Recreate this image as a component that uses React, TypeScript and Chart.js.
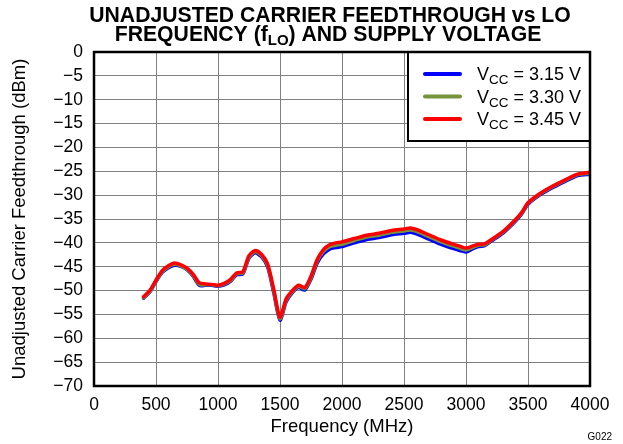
import React, { useEffect, useRef } from 'react';
import { Chart, registerables } from 'chart.js';
Chart.register(...registerables);

const FREQ = [400, 450, 500, 550, 600, 650, 700, 750, 800, 850, 900, 950, 1000, 1050, 1100, 1150, 1200, 1250, 1300, 1350, 1400, 1450, 1500, 1550, 1600, 1650, 1700, 1750, 1800, 1850, 1900, 1950, 2000, 2100, 2200, 2300, 2400, 2500, 2550, 2600, 2700, 2800, 2900, 2950, 3000, 3050, 3100, 3150, 3200, 3300, 3400, 3450, 3500, 3600, 3700, 3800, 3900, 4000];

const VCC_315 = [-51.6, -50.3, -48.1, -46.2, -45.2, -44.7, -44.9, -45.6, -47.0, -48.9, -48.9, -48.9, -49.1, -48.8, -48.1, -46.7, -46.5, -43.2, -42.1, -42.9, -45.0, -50.5, -56.2, -52.3, -50.4, -49.3, -49.9, -47.6, -44.2, -42.3, -41.3, -41.0, -40.8, -40.0, -39.3, -38.9, -38.3, -38.0, -37.8, -38.1, -39.2, -40.3, -41.2, -41.6, -41.9, -41.3, -40.8, -40.6, -39.7, -37.9, -35.4, -33.9, -31.9, -29.9, -28.4, -27.1, -25.9, -25.6];

const VCC_330 = [-51.5, -50.2, -48.0, -46.0, -45.0, -44.5, -44.8, -45.5, -46.8, -48.7, -48.8, -48.8, -49.0, -48.6, -47.9, -46.5, -46.3, -43.0, -41.8, -42.6, -44.7, -50.1, -55.9, -52.0, -50.2, -49.1, -49.6, -47.3, -43.8, -41.8, -40.8, -40.5, -40.3, -39.5, -38.8, -38.4, -37.8, -37.5, -37.3, -37.6, -38.7, -39.8, -40.7, -41.1, -41.5, -41.0, -40.5, -40.4, -39.5, -37.7, -35.2, -33.7, -31.7, -29.7, -28.2, -26.9, -25.7, -25.4];

const VCC_345 = [-51.3, -50.0, -47.8, -45.8, -44.8, -44.2, -44.6, -45.3, -46.6, -48.4, -48.6, -48.7, -48.9, -48.5, -47.7, -46.3, -46.1, -42.7, -41.6, -42.4, -44.4, -49.8, -55.6, -51.7, -50.0, -48.9, -49.4, -47.0, -43.5, -41.4, -40.4, -40.0, -39.8, -39.1, -38.4, -38.0, -37.4, -37.1, -36.9, -37.2, -38.3, -39.4, -40.3, -40.7, -41.1, -40.7, -40.3, -40.2, -39.4, -37.6, -35.1, -33.6, -31.6, -29.6, -28.1, -26.8, -25.6, -25.2];

const X_TICKS = [0, 500, 1000, 1500, 2000, 2500, 3000, 3500, 4000];
const Y_TICKS = [0, -5, -10, -15, -20, -25, -30, -35, -40, -45, -50, -55, -60, -65, -70];
const SERIES_VALUES = ['3.15 V', '3.30 V', '3.45 V'];
const SERIES_COLORS = ['#0000FF', '#77933C', '#FF0000'];

const FONT = '"Liberation Sans", Arial, sans-serif';

function drawSubText(
  ctx: CanvasRenderingContext2D,
  parts: { t: string; sub?: boolean }[],
  cx: number,
  baseline: number,
  size: number,
  subSize: number,
  weight: string,
  align: 'center' | 'left',
  subDrop: number
) {
  const widths = parts.map((p) => {
    ctx.font = `${weight} ${p.sub ? subSize : size}px ${FONT}`;
    return ctx.measureText(p.t).width;
  });
  const total = widths.reduce((a, b) => a + b, 0);
  let x = align === 'center' ? cx - total / 2 : cx;
  ctx.textAlign = 'left';
  ctx.textBaseline = 'alphabetic';
  parts.forEach((p, i) => {
    ctx.font = `${weight} ${p.sub ? subSize : size}px ${FONT}`;
    ctx.fillText(p.t, x, p.sub ? baseline + subDrop : baseline);
    x += widths[i];
  });
}

const overlay = {
  id: 'overlay',
  afterDraw(chart: any) {
    const ctx: CanvasRenderingContext2D = chart.ctx;
    const a = chart.chartArea;
    ctx.save();

    // legend
    const lx = 408, ly = a.top, lw = a.right - 408, lh = 89;
    ctx.fillStyle = '#fff';
    ctx.fillRect(lx, ly, lw, lh);
    ctx.strokeStyle = '#000';
    ctx.lineWidth = 2;
    ctx.strokeRect(lx, ly, lw, lh);
    // plot frame
    ctx.lineWidth = 2.5;
    ctx.strokeRect(a.left, a.top, a.right - a.left, a.bottom - a.top);
    const rows = [74, 96.5, 119];
    SERIES_VALUES.forEach((v, i) => {
      ctx.strokeStyle = SERIES_COLORS[i];
      ctx.lineWidth = 4;
      ctx.lineCap = 'round';
      ctx.beginPath();
      ctx.moveTo(425, rows[i]);
      ctx.lineTo(460, rows[i]);
      ctx.stroke();
      ctx.fillStyle = '#000';
      drawSubText(ctx, [{ t: 'V' }, { t: 'CC', sub: true }, { t: ' = ' + v }], 477, rows[i] + 6, 18, 13.5, 'normal', 'left', 4);
    });

    // title
    ctx.fillStyle = '#000';
    drawSubText(ctx, [{ t: 'UNADJUSTED CARRIER FEEDTHROUGH vs LO' }], 330, 22, 21.2, 15, 'bold', 'center', 4);
    drawSubText(ctx, [{ t: 'FREQUENCY (f' }, { t: 'LO', sub: true }, { t: ') AND SUPPLY VOLTAGE' }], 328, 41, 21.2, 15, 'bold', 'center', 4);

    // axis titles
    ctx.font = `18.5px ${FONT}`;
    ctx.textAlign = 'center';
    ctx.textBaseline = 'middle';
    ctx.fillText('Frequency (MHz)', (a.left + a.right) / 2, 427);
    ctx.save();
    ctx.translate(20, (a.top + a.bottom) / 2);
    ctx.rotate(-Math.PI / 2);
    ctx.fillText('Unadjusted Carrier Feedthrough (dBm)', 0, 0);
    ctx.restore();

    // figure id
    ctx.font = `10px ${FONT}`;
    ctx.textAlign = 'right';
    ctx.textBaseline = 'middle';
    ctx.fillText('G022', 612, 437);
    ctx.restore();
  },
};

export default function App() {
  const ref = useRef<HTMLCanvasElement>(null);
  useEffect(() => {
    document.body.style.margin = '0';
    const mk = (vals: number[]) => FREQ.map((f, i) => ({ x: f, y: vals[i] }));
    const chart = new Chart(ref.current!, {
      type: 'line',
      data: {
        datasets: [
          { label: 'VCC = 3.45 V', data: mk(VCC_345), borderColor: SERIES_COLORS[2], order: 0 },
          { label: 'VCC = 3.30 V', data: mk(VCC_330), borderColor: SERIES_COLORS[1], order: 1 },
          { label: 'VCC = 3.15 V', data: mk(VCC_315), borderColor: SERIES_COLORS[0], order: 2 },
        ].map((d) => ({ ...d, borderWidth: 3.5, pointRadius: 0, tension: 0.25, fill: false, borderJoinStyle: 'round' as const, borderCapStyle: 'round' as const })),
      },
      options: {
        responsive: false,
        animation: false,
        devicePixelRatio: 1,
        layout: { padding: { left: 0, top: 52, right: 33, bottom: 0 } },
        plugins: { legend: { display: false }, tooltip: { enabled: false }, title: { display: false } },
        scales: {
          x: {
            type: 'linear',
            min: 0,
            max: 4000,
            afterBuildTicks: (s: any) => { s.ticks = X_TICKS.map((v) => ({ value: v })); },
            afterFit: (s: any) => { s.height = 58; },
            ticks: { color: '#000', font: { family: FONT, size: 17.5 }, padding: 9, maxRotation: 0, autoSkip: false, callback: (v: any) => String(v) },
            grid: { color: '#808080', lineWidth: 1, drawTicks: false },
            border: { display: false },
          },
          y: {
            type: 'linear',
            min: -70,
            max: 0,
            afterBuildTicks: (s: any) => { s.ticks = Y_TICKS.map((v) => ({ value: v })); },
            afterFit: (s: any) => { s.width = 94; },
            ticks: { color: '#000', font: { family: FONT, size: 17.5 }, padding: 11, autoSkip: false, callback: (v: any) => String(v).replace('-', '\u2212') },
            grid: { color: '#808080', lineWidth: 1, drawTicks: false },
            border: { display: false },
          },
        },
      },
      plugins: [overlay],
    });
    return () => chart.destroy();
  }, []);
  return (
    <div style={{ width: 623, height: 444, background: '#fff' }}>
      <canvas ref={ref} width={623} height={444} />
    </div>
  );
}
